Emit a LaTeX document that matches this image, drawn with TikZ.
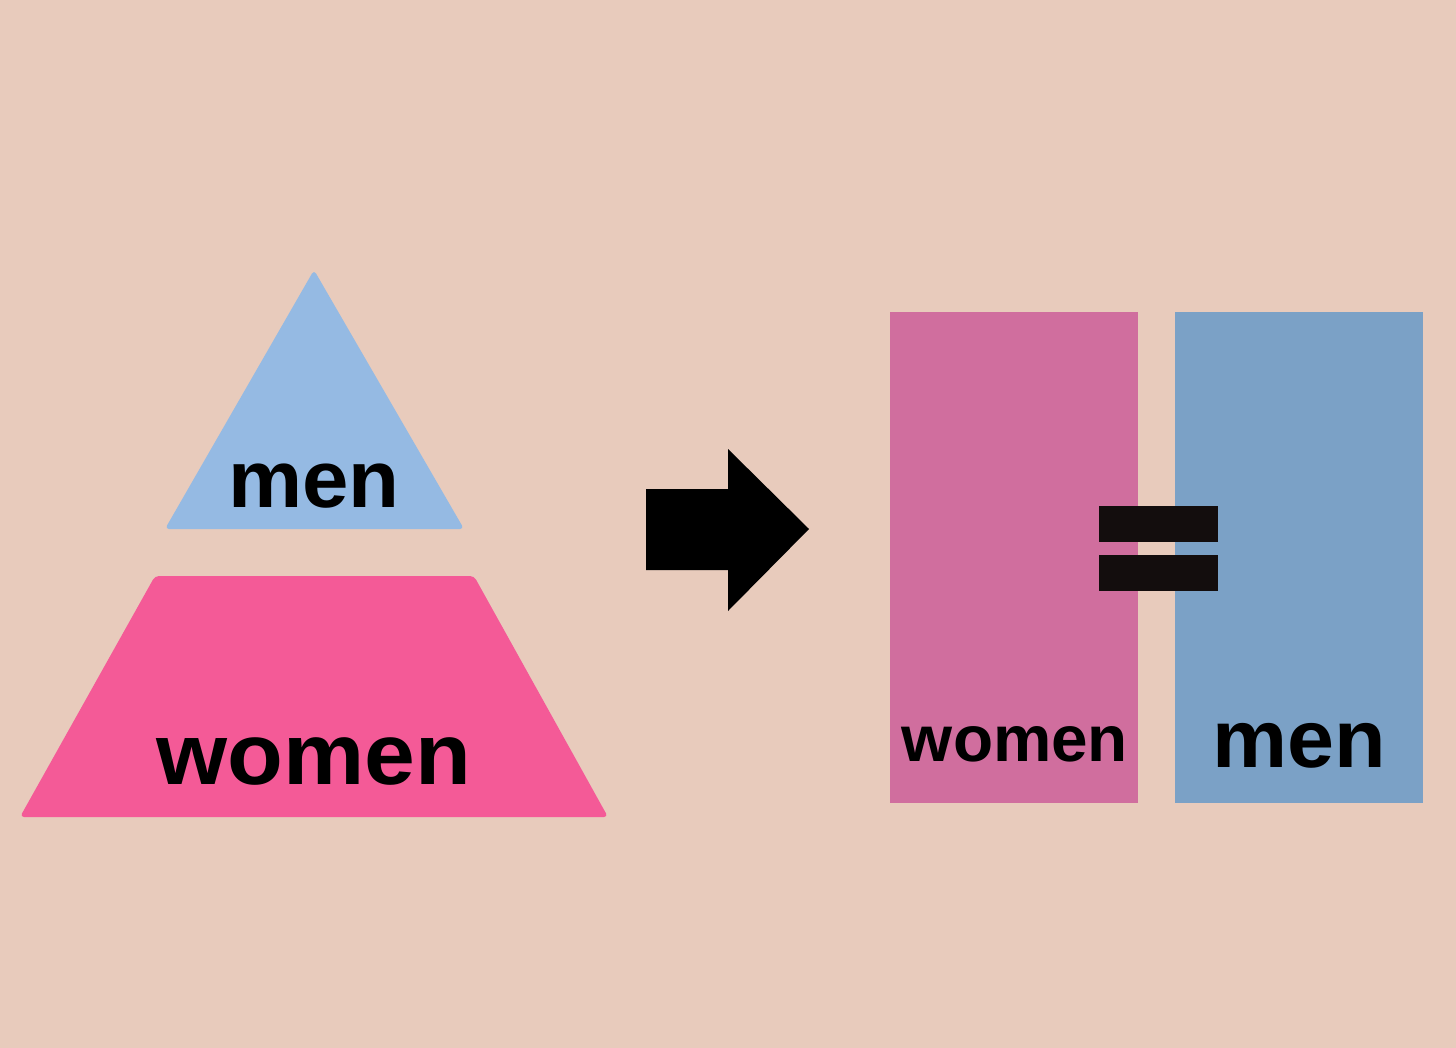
\documentclass[tikz,border=0pt]{standalone}
\usepackage{fontspec}
\setmainfont{Liberation Sans}
\definecolor{bgc}{HTML}{E8CBBC}
\definecolor{tribl}{HTML}{95BAE3}
\definecolor{trapk}{HTML}{F45A97}
\definecolor{rectpk}{HTML}{D06E9E}
\definecolor{rectbl}{HTML}{7BA1C6}
\definecolor{barc}{HTML}{130D0D}
\tikzset{
  lbl/.style={anchor=base, inner sep=0pt, text=black},
  shapefill/.style={rounded corners=4pt},
}
\newcommand{\lblfont}[1]{\fontsize{#1}{#1}\selectfont\bfseries}
\begin{document}
\begin{tikzpicture}[x=1pt,y=-1pt]
\fill[bgc] (0,0) rectangle (1456,1048);
\useasboundingbox (0,0) rectangle (1456,1048);
% pyramid
\fill[tribl, shapefill] (314,270) -- (464,529) -- (165,529) -- cycle;
\fill[trapk, shapefill] (155,576) -- (474,576) -- (608,817) -- (20,817) -- cycle;
\node[lbl] (menL) at (314,507) {\lblfont{81}\scalebox{1.03}[1]{men}};
\node[lbl] (womenL) at (314,784) {\lblfont{87}\scalebox{1.05}[1]{women}};
% arrow
\fill[black] (646,489) -- (728,489) -- (728,449) -- (809,529) -- (728,611) -- (728,570) -- (646,570) -- cycle;
% rectangles
\fill[rectpk] (890,312) rectangle (1138,803);
\fill[rectbl] (1175,312) rectangle (1423,803);
\fill[barc] (1099,506) rectangle (1218,542);
\fill[barc] (1099,555) rectangle (1218,591);
\node[lbl] (womenR) at (1015,761) {\lblfont{65}\scalebox{1.01}[1]{women}};
\node[lbl] (menR) at (1299,767) {\lblfont{82}\scalebox{1.03}[1]{men}};
\end{tikzpicture}
\end{document}
